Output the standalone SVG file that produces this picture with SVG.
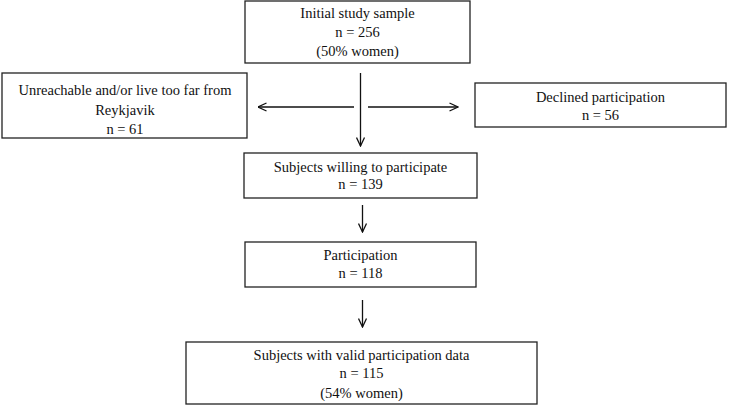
<svg xmlns="http://www.w3.org/2000/svg" width="731" height="405" viewBox="0 0 731 405">
<style>
.box{fill:#fff;stroke:#222;stroke-width:1.3}
.t{font-family:"Liberation Serif","Times New Roman",serif;font-size:14.5px;fill:#111;text-anchor:middle}
.c{stroke:#111;stroke-width:1.3;fill:none}
</style>
<defs>
<marker id="ah" viewBox="0 0 10 10" refX="9.5" refY="5" markerWidth="10" markerHeight="10" markerUnits="userSpaceOnUse" orient="auto">
<polyline points="1,1 9.5,5 1,9" fill="none" stroke="#111" stroke-width="1.3"/>
</marker>
</defs>
<rect width="731" height="405" fill="#fff"/>
<g id="connectors">
<line class="c" x1="360.5" y1="73" x2="360.5" y2="146" marker-end="url(#ah)"/>
<line class="c" x1="354" y1="107" x2="258" y2="107" marker-end="url(#ah)"/>
<line class="c" x1="368" y1="107" x2="458" y2="107" marker-end="url(#ah)"/>
<line class="c" x1="362.5" y1="205" x2="362.5" y2="232" marker-end="url(#ah)"/>
<line class="c" x1="362.5" y1="300" x2="362.5" y2="327" marker-end="url(#ah)"/>
</g>
<g id="initial">
<rect class="box" x="245" y="1" width="225" height="62"/>
<text class="t" x="357.5" y="18">Initial study sample</text>
<text class="t" x="357.5" y="37">n = 256</text>
<text class="t" x="357.5" y="56">(50% women)</text>
</g>
<g id="unreachable">
<rect class="box" x="2" y="73" width="245" height="65"/>
<text class="t" x="125" y="95">Unreachable and/or live too far from</text>
<text class="t" x="125" y="115">Reykjavik</text>
<text class="t" x="125" y="134">n = 61</text>
</g>
<g id="declined">
<rect class="box" x="475" y="83" width="251" height="44"/>
<text class="t" x="600.5" y="102">Declined participation</text>
<text class="t" x="600.5" y="120">n = 56</text>
</g>
<g id="willing">
<rect class="box" x="244" y="153" width="233" height="45"/>
<text class="t" x="360.5" y="172">Subjects willing to participate</text>
<text class="t" x="360.5" y="189">n = 139</text>
</g>
<g id="participation">
<rect class="box" x="245" y="242" width="231" height="45"/>
<text class="t" x="360.5" y="260">Participation</text>
<text class="t" x="360.5" y="278">n = 118</text>
</g>
<g id="valid">
<rect class="box" x="186" y="342" width="351" height="62"/>
<text class="t" x="361.5" y="360">Subjects with valid participation data</text>
<text class="t" x="361.5" y="378">n = 115</text>
<text class="t" x="361.5" y="398">(54% women)</text>
</g>
</svg>
